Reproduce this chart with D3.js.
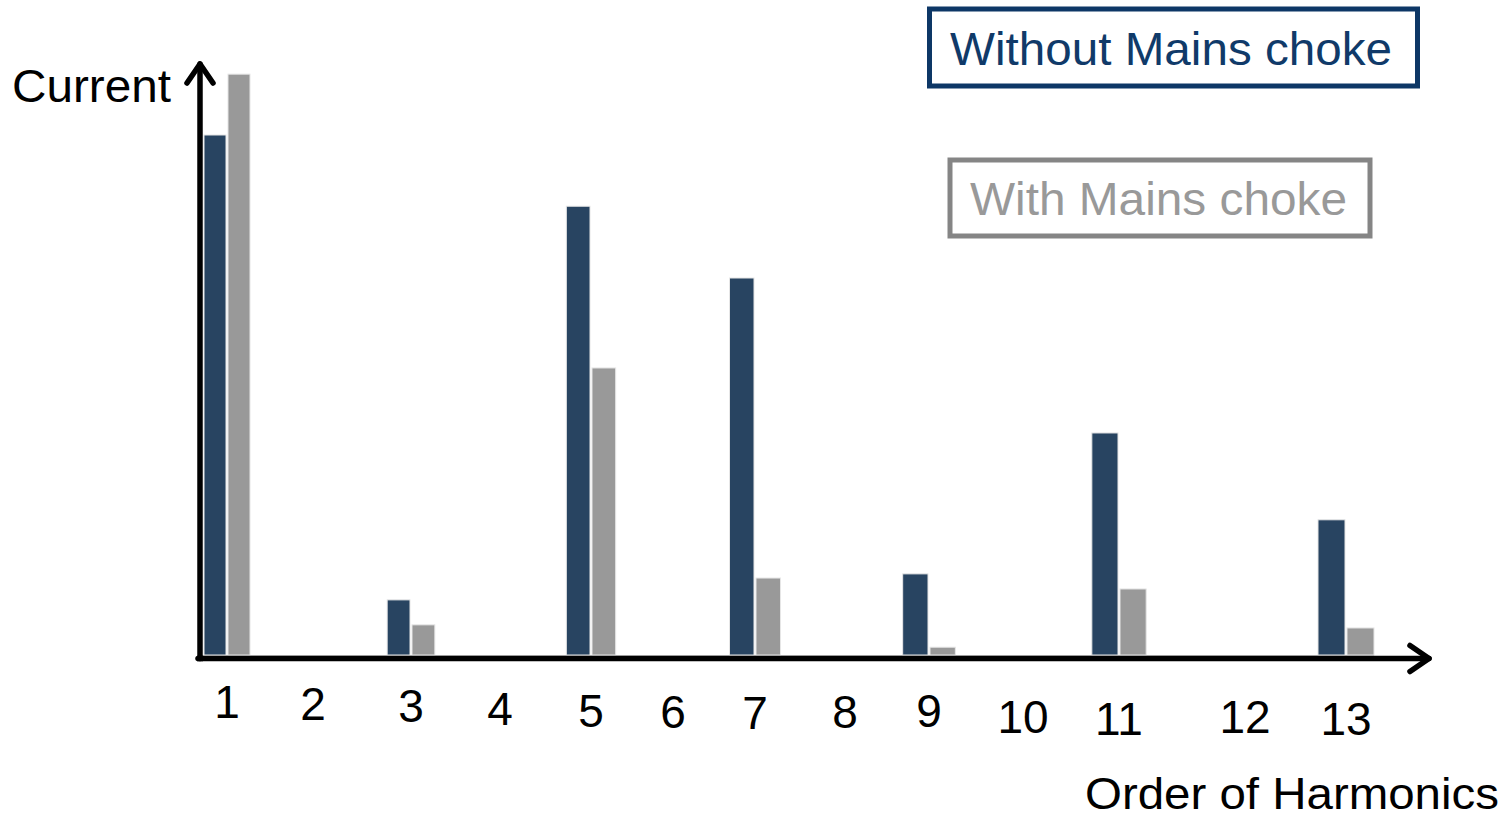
<!DOCTYPE html>
<html>
<head>
<meta charset="utf-8">
<script src="https://cdn.jsdelivr.net/npm/d3@7"></script>
<style>
  html, body { margin: 0; padding: 0; background: #ffffff; }
  svg { display: block; }
  text { font-family: "Liberation Sans", Arial, sans-serif; }
</style>
</head>
<body>
<svg id="chart" width="1509" height="819"></svg>
<script>
// Harmonic orders shown on the axis
const orders = [1, 2, 3, 4, 5, 6, 7, 8, 9, 10, 11, 12, 13];
// Orders that carry current
const harmonics = [1, 3, 5, 7, 9, 11, 13];
// Relative current per harmonic (fundamental without choke = 100)
const withoutChoke = [100, 10.6, 86.3, 72.5, 15.6, 42.7, 26.0];
const withChoke    = [111.7, 5.8, 55.2, 14.8, 1.5, 12.7, 5.2];
const seriesNames = ["Without Mains choke", "With Mains choke"];

// ---- layout ----
const W = 1509, H = 819;
const axisX = 200, axisY = 658.5, baseY = 655;
const colDark = "#284461", colGray = "#999999";

// the sketch places the orders unevenly along the axis
const orderPos   = [227, 313, 411, 500, 591, 673, 755, 845, 929, 1023, 1119, 1245, 1346];
const labelBase  = [718, 719.5, 721.5, 725, 726.5, 727.5, 729, 727.5, 726.5, 733, 735, 733, 735];

const x = d3.scaleLinear().domain(orders).range(orderPos);
const labelY = d3.scaleLinear().domain(orders).range(labelBase);
const barW = d3.scaleLinear().domain([1, 13]).range([22, 27]);
const y = d3.scaleLinear().domain([0, 100]).range([baseY, 135]);

const svg = d3.select("#chart");

const rows = harmonics.map((h, i) => ({ h, a: withoutChoke[i], b: withChoke[i] }));

// thin baseline under the bars
svg.append("line")
  .attr("x1", axisX).attr("x2", x(13) + 28)
  .attr("y1", baseY + 0.5).attr("y2", baseY + 0.5)
  .attr("stroke", "#cfcfcf").attr("stroke-width", 1);

const g = svg.append("g");
// without choke (dark, left of pair)
g.selectAll("rect.dark").data(rows).join("rect")
  .attr("class", "dark")
  .attr("x", d => x(d.h) - barW(d.h) - 1)
  .attr("width", d => barW(d.h))
  .attr("y", d => y(d.a))
  .attr("height", d => baseY - y(d.a))
  .attr("fill", colDark)
  .attr("stroke", "#e6e6e6").attr("stroke-width", 1);
// with choke (gray, right of pair)
g.selectAll("rect.gray").data(rows).join("rect")
  .attr("class", "gray")
  .attr("x", d => x(d.h) + 1)
  .attr("width", d => barW(d.h))
  .attr("y", d => y(d.b))
  .attr("height", d => baseY - y(d.b))
  .attr("fill", colGray)
  .attr("stroke", "#e6e6e6").attr("stroke-width", 1);

// axes with open arrow heads
const axisG = svg.append("g")
  .attr("stroke", "#000").attr("stroke-width", 5.5)
  .attr("fill", "none").attr("stroke-linecap", "round").attr("stroke-linejoin", "round");
axisG.append("path").attr("d", `M${axisX},${axisY} L${axisX},64`);
axisG.append("path").attr("d", `M${axisX - 13},83 L${axisX},64 L${axisX + 13},83`);
axisG.append("path").attr("d", `M${axisX - 2},${axisY} L1429,${axisY}`);
axisG.append("path").attr("d", `M1410,${axisY - 13} L1429,${axisY} L1410,${axisY + 13}`);
svg.append("rect").attr("x", axisX - 3).attr("y", axisY - 2.75).attr("width", 6).attr("height", 5.5).attr("fill", "#000");

// order labels
svg.append("g").selectAll("text").data(orders).join("text")
  .attr("x", d => x(d))
  .attr("y", d => labelY(d))
  .attr("text-anchor", "middle")
  .attr("font-size", 46)
  .attr("fill", "#000")
  .text(d => d);

// axis titles (stretched slightly wider than the font's natural width)
svg.append("text")
  .attr("x", 12).attr("y", 102)
  .attr("font-size", 46).attr("fill", "#000")
  .attr("textLength", 159).attr("lengthAdjust", "spacingAndGlyphs")
  .text("Current");
svg.append("text")
  .attr("x", 1085).attr("y", 809)
  .attr("font-size", 45).attr("fill", "#000")
  .attr("textLength", 414).attr("lengthAdjust", "spacingAndGlyphs")
  .text("Order of Harmonics");

// legend boxes
const legend = [
  { name: seriesNames[0], x: 929.5, y: 9, w: 488, h: 77, stroke: "#0d3766", text: "#103a69", tx: 950, ty: 65, len: 442 },
  { name: seriesNames[1], x: 950, y: 160, w: 420, h: 76, stroke: "#858585", text: "#999999", tx: 970, ty: 215, len: 377 }
];
const lg = svg.append("g").selectAll("g").data(legend).join("g");
lg.append("rect")
  .attr("x", d => d.x).attr("y", d => d.y)
  .attr("width", d => d.w).attr("height", d => d.h)
  .attr("fill", "#fff").attr("stroke", d => d.stroke).attr("stroke-width", 5);
lg.append("text")
  .attr("x", d => d.tx).attr("y", d => d.ty)
  .attr("font-size", 47).attr("fill", d => d.text)
  .attr("textLength", d => d.len).attr("lengthAdjust", "spacingAndGlyphs")
  .text(d => d.name);
</script>
</body>
</html>
